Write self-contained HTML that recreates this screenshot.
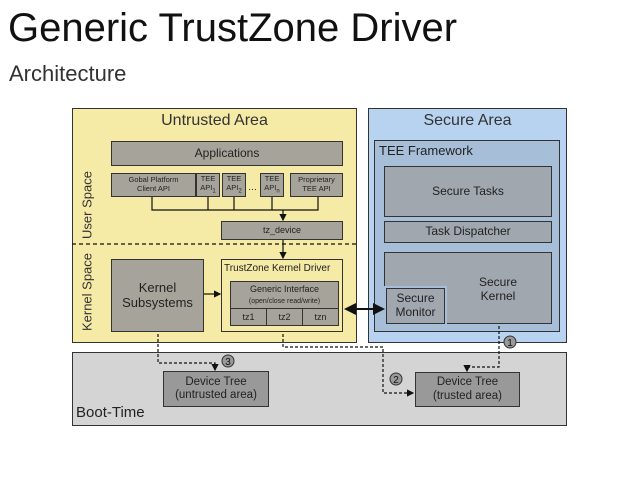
<!DOCTYPE html>
<html><head><meta charset="utf-8"><style>
body{margin:0;width:638px;height:479px;background:#fff;position:relative;overflow:hidden;font-family:"Liberation Sans",sans-serif}
.a{position:absolute;box-sizing:border-box}
.g{background:#a6a49a;border:1px solid #333;display:flex;align-items:center;justify-content:center;text-align:center;color:#222;line-height:1.15}
.s{background:#a0a7ae}
sub{font-size:6px}
</style></head><body>
<div class="a" style="left:8px;top:6px;font-size:40px;color:#111">Generic TrustZone Driver</div>
<div class="a" style="left:9px;top:61px;font-size:22px;color:#333">Architecture</div>

<div class="a" style="left:72px;top:108px;width:285px;height:235px;background:#f5eaa6;border:1px solid #333"></div>
<div class="a" style="left:72px;top:112px;width:285px;text-align:center;font-size:16px;color:#333">Untrusted Area</div>
<div class="a" style="left:368px;top:108px;width:199px;height:235px;background:#b8d3f0;border:1px solid #333"></div>
<div class="a" style="left:368px;top:112px;width:199px;text-align:center;font-size:16px;color:#333">Secure Area</div>
<div class="a" style="left:374px;top:140px;width:186px;height:192px;background:#a6bed8;border:1px solid #333"></div>
<div class="a" style="left:379px;top:143px;font-size:13px;color:#222">TEE Framework</div>
<div class="a g s" style="left:384px;top:166px;width:168px;height:51px;font-size:12px">Secure Tasks</div>
<div class="a g s" style="left:384px;top:221px;width:168px;height:22px;font-size:12px">Task Dispatcher</div>
<div class="a g s" style="left:384px;top:252px;width:168px;height:72px;font-size:12px;padding-left:60px;padding-top:4px"><div>Secure<br>Kernel</div></div>
<div class="a" style="left:384px;top:286px;width:63px;height:38px;background:#a6bed8"></div>
<div class="a g s" style="left:386px;top:288px;width:59px;height:36px;font-size:12px"><div>Secure<br>Monitor</div></div>

<div class="a" style="left:72px;top:352px;width:495px;height:74px;background:#d4d4d4;border:1px solid #333"></div>
<div class="a" style="left:76px;top:404px;font-size:15px;color:#222">Boot-Time</div>
<div class="a g" style="left:163px;top:371px;width:106px;height:36px;font-size:11.5px;background:#999"><div>Device Tree<br>(untrusted area)</div></div>
<div class="a g" style="left:415px;top:372px;width:105px;height:35px;font-size:11.5px;background:#999"><div>Device Tree<br>(trusted area)</div></div>

<div class="a g" style="left:111px;top:141px;width:232px;height:25px;font-size:12px">Applications</div>
<div class="a g" style="left:111px;top:173px;width:85px;height:24px;font-size:7.5px"><div>Gobal Platform<br>Client API</div></div>
<div class="a g" style="left:196px;top:173px;width:24px;height:24px;font-size:7.5px"><div>TEE<br>API<sub>1</sub></div></div>
<div class="a g" style="left:222px;top:173px;width:24px;height:24px;font-size:7.5px"><div>TEE<br>API<sub>2</sub></div></div>
<div class="a" style="left:248px;top:182px;font-size:9px">…</div>
<div class="a g" style="left:260px;top:173px;width:24px;height:24px;font-size:7.5px"><div>TEE<br>API<sub>n</sub></div></div>
<div class="a g" style="left:290px;top:173px;width:53px;height:24px;font-size:7.5px"><div>Proprietary<br>TEE API</div></div>
<div class="a g" style="left:221px;top:221px;width:122px;height:19px;font-size:9px">tz_device</div>
<div class="a g" style="left:111px;top:259px;width:93px;height:73px;font-size:13px"><div>Kernel<br>Subsystems</div></div>
<div class="a" style="left:221px;top:259px;width:122px;height:73px;background:#f5eaa6;border:1px solid #333"></div>
<div class="a" style="left:224px;top:263px;font-size:10px;color:#222">TrustZone Kernel Driver</div>
<div class="a g" style="left:230px;top:281px;width:109px;height:28px;font-size:9px"><div>Generic Interface<br><span style="font-size:7px">(open/close read/write)</span></div></div>
<div class="a g" style="left:230px;top:308px;width:37px;height:18px;font-size:9px">tz1</div>
<div class="a g" style="left:266px;top:308px;width:37px;height:18px;font-size:9px">tz2</div>
<div class="a g" style="left:302px;top:308px;width:37px;height:18px;font-size:9px">tzn</div>

<div class="a" style="left:78px;top:205px;transform:translate(-50%,-50%) rotate(-90deg);font-size:13px;color:#333;white-space:nowrap;margin-left:9px">User Space</div>
<div class="a" style="left:78px;top:292px;transform:translate(-50%,-50%) rotate(-90deg);font-size:13px;color:#333;white-space:nowrap;margin-left:9px">Kernel Space</div>

<svg class="a" style="left:0;top:0" width="638" height="479">
<defs><marker id="m" markerWidth="6" markerHeight="6" refX="5" refY="3" orient="auto"><path d="M0,0L6,3L0,6z" fill="#111"/></marker>
<marker id="ms" markerWidth="6" markerHeight="6" refX="1" refY="3" orient="auto"><path d="M6,0L0,3L6,6z" fill="#111"/></marker></defs>
<g stroke="#111" fill="none" stroke-width="1.2">
<line x1="72" y1="244" x2="357" y2="244" stroke-dasharray="4,3"/>
<path d="M152 197V210H318V197M208 197V210M234 197V210M272 197V210"/>
<line x1="283" y1="210" x2="283" y2="220" marker-end="url(#m)"/>
<line x1="283" y1="240" x2="283" y2="258" marker-end="url(#m)"/>
<line x1="204" y1="294" x2="220" y2="294" marker-end="url(#m)"/>
<line x1="346" y1="309" x2="383" y2="309" stroke-width="2" marker-end="url(#m)" marker-start="url(#ms)"/>
<g stroke-dasharray="3,2">
<path d="M158 334V363H215V370" marker-end="url(#m)"/>
<path d="M283 334V347H383V393H413" marker-end="url(#m)"/>
<path d="M499 326V367H467V371" marker-end="url(#m)"/>
</g>
</g>
<g fill="#999" stroke="#333"><circle cx="228" cy="361" r="6"/><circle cx="396" cy="379" r="6"/><circle cx="510" cy="342" r="6"/></g>
<g font-size="10" text-anchor="middle" fill="#111" font-family="Liberation Sans"><text x="228" y="365">3</text><text x="396" y="383">2</text><text x="510" y="346">1</text></g>
</svg>
</body></html>
